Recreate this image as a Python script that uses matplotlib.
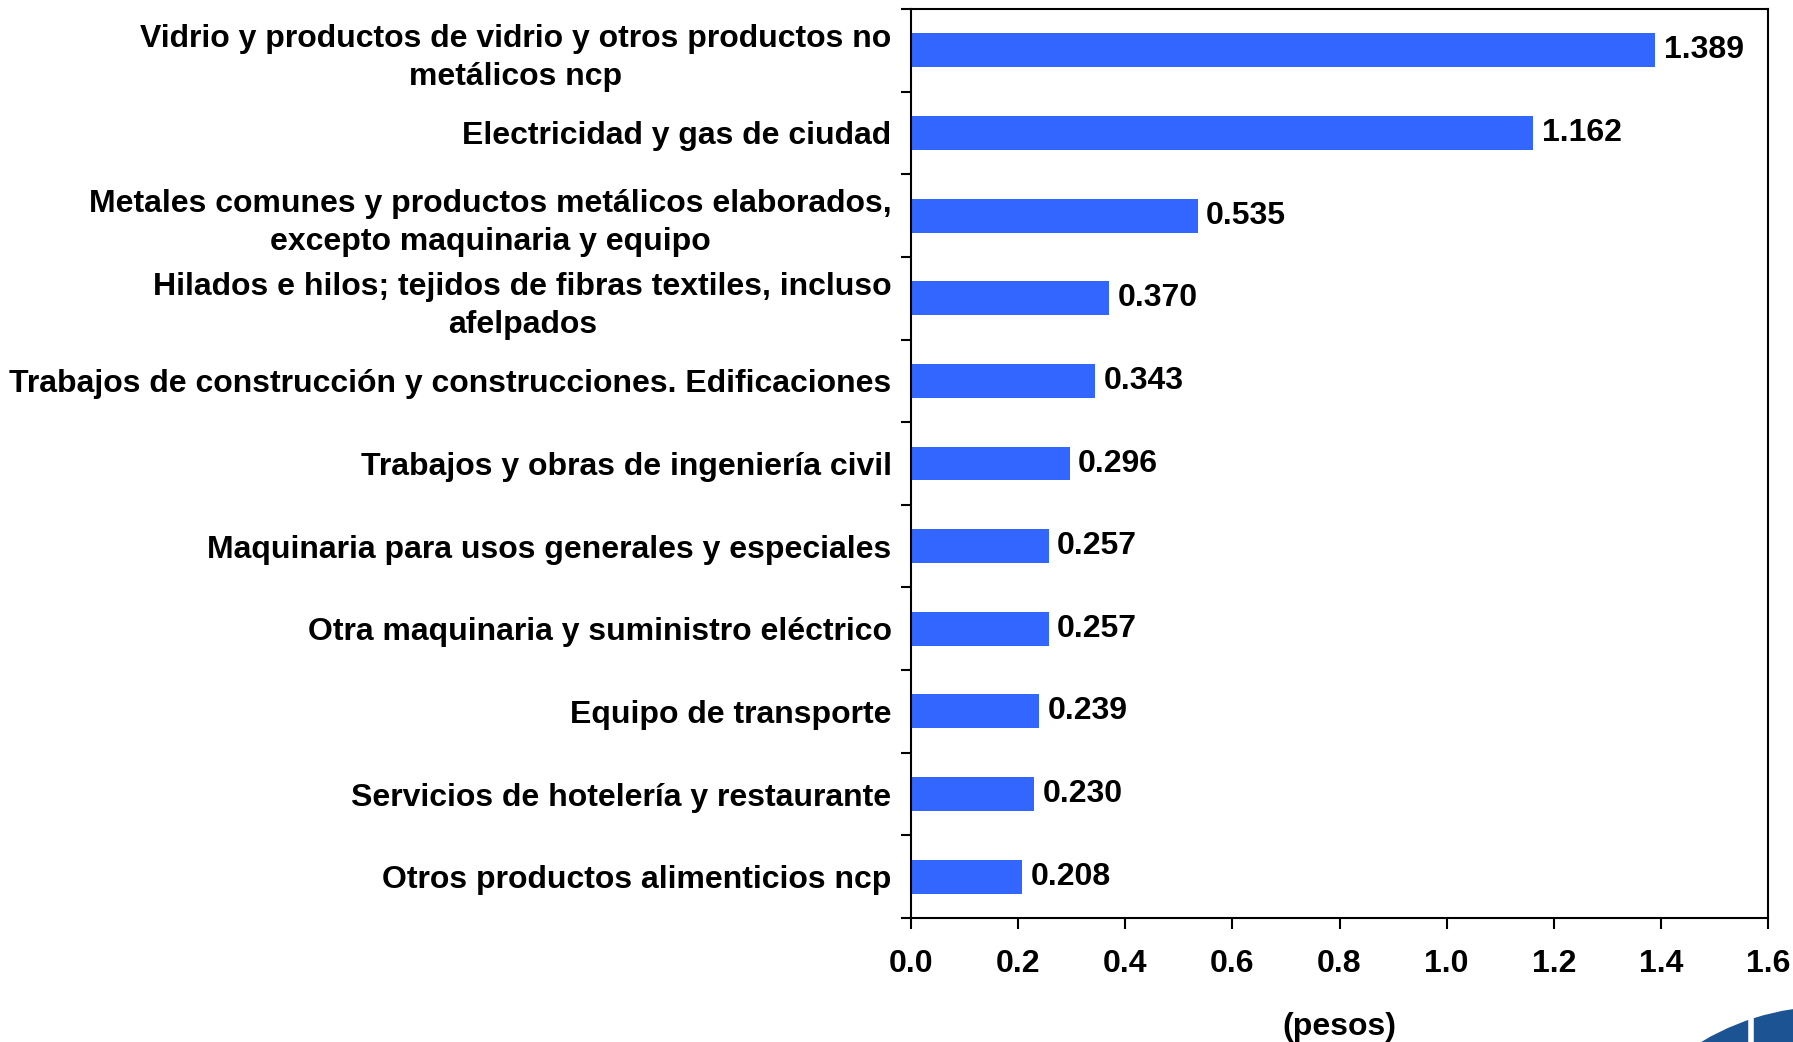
import matplotlib
matplotlib.use("Agg")
import matplotlib.pyplot as plt
from matplotlib.patches import Wedge
from matplotlib.transforms import IdentityTransform

plt.rcParams["font.family"] = ["Liberation Sans", "DejaVu Sans"]
plt.rcParams["font.weight"] = "bold"

# categories listed top to bottom
categories = [
    "Vidrio y productos de vidrio y otros productos no\nmetálicos ncp",
    "Electricidad y gas de ciudad",
    "Metales comunes y productos metálicos elaborados,\nexcepto maquinaria y equipo",
    "Hilados e hilos; tejidos de fibras textiles, incluso\nafelpados",
    "Trabajos de construcción y construcciones. Edificaciones",
    "Trabajos y obras de ingeniería civil",
    "Maquinaria para usos generales y especiales",
    "Otra maquinaria y suministro eléctrico",
    "Equipo de transporte",
    "Servicios de hotelería y restaurante",
    "Otros productos alimenticios ncp",
]
values = [1.389, 1.162, 0.535, 0.370, 0.343, 0.296, 0.257, 0.257, 0.239, 0.230, 0.208]
value_labels = ["1.389", "1.162", "0.535", "0.370", "0.343", "0.296",
                "0.257", "0.257", "0.239", "0.230", "0.208"]
xticks = [0.0, 0.2, 0.4, 0.6, 0.8, 1.0, 1.2, 1.4, 1.6]

FS = 23

fig = plt.figure(figsize=(17.93, 10.42), dpi=100)
ax = fig.add_axes([911 / 1793, 1 - 918 / 1042, (1768 - 911) / 1793, (918 - 9) / 1042])

pos = list(range(len(categories)))
ax.barh(pos, values, height=0.41, color="#3366FF")
for p, v, lab in zip(pos, values, value_labels):
    ax.text(v + 0.016, p, lab, va="center", ha="left", fontsize=FS,
            fontweight="bold", color="black")

ax.set_ylim(len(categories) - 0.5, -0.5)
ax.set_xlim(0, 1.6)

# y ticks sit between the categories, labels on minor ticks
ax.set_yticks([i - 0.5 for i in range(len(categories) + 1)])
ax.set_yticklabels([])
ax.set_yticks(pos, minor=True)
ax.set_yticklabels(categories, minor=True, fontsize=FS, fontweight="bold")
ax.tick_params(axis="y", which="minor", length=0, pad=14)
ax.tick_params(axis="y", which="major", length=7, width=1.5, direction="out")
for t in ax.get_yticklabels(minor=True):
    t.set_multialignment("center")
    t.set_linespacing(1.35)

ax.set_xticks(xticks)
ax.set_xticklabels([f"{x:.1f}" for x in xticks], fontsize=FS, fontweight="bold")
ax.tick_params(axis="x", length=8, width=1.5, direction="out", pad=14)
ax.set_xlabel("(pesos)", fontsize=FS, fontweight="bold", labelpad=24)

for s in ax.spines.values():
    s.set_linewidth(1.5)

# piece of logo in bottom-right corner
logo = Wedge((1830, -215), 250, 90, 125, width=250, color="#1B5393",
             transform=IdentityTransform())
fig.patches.append(logo)
fig.lines.append(plt.Line2D([1751, 1751], [0, 40], color="white", lw=4,
                            transform=IdentityTransform()))

fig.savefig("out.png", dpi=100)
